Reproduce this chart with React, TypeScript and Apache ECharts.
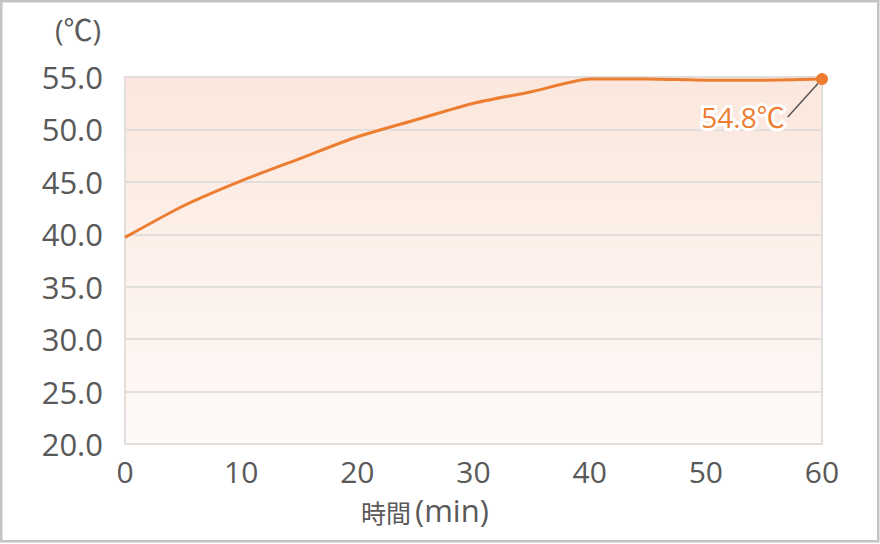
import React, { useEffect, useRef } from "react";
import * as echarts from "echarts";

const minutes = [0, 5, 10, 15, 20, 25, 30, 35, 40, 45, 50, 55, 60];
const temps = [39.7, 42.7, 45.1, 47.2, 49.3, 50.9, 52.5, 53.6, 54.8, 54.8, 54.7, 54.7, 54.8];
const xTicks = { min: 0, max: 60, interval: 10 };
const yTicks = { min: 20, max: 55, interval: 5 };
const endLabel = "54.8℃";
const xNameMain = "時間";
const xNameUnit = "(min)";
const yName = "(℃)";

const FONT = "'Open Sans', 'Noto Sans CJK JP', sans-serif";
const CJK = "'Noto Sans CJK JP', sans-serif";
const ORANGE = "#ed7d31";
const GREY = "#595959";

export default function App() {
  const ref = useRef<HTMLDivElement>(null);
  useEffect(() => {
    if (!ref.current) return;
    const chart = echarts.init(ref.current, undefined, { renderer: "svg" });
    const data = minutes.map((m, i) => {
      const item: any = { value: [m, temps[i]] };
      if (i === minutes.length - 1) {
        item.symbol = "circle";
        item.symbolSize = 12;
        item.label = {
          show: true,
          formatter: endLabel,
          color: ORANGE,
          fontSize: 28,
          fontFamily: FONT,
          textBorderColor: "#fff",
          textBorderWidth: 6,
        };
        item.labelLine = { show: true, lineStyle: { color: "#555", width: 1.5 } };
      }
      return item;
    });
    chart.setOption({
      animation: false,
      backgroundColor: "#fff",
      textStyle: { fontFamily: FONT },
      grid: {
        left: 125,
        right: 58,
        top: 77,
        bottom: 100,
        show: true,
        borderColor: "#e2dedc",
        borderWidth: 2,
        backgroundColor: new echarts.graphic.LinearGradient(0, 0, 0, 1, [
          { offset: 0, color: "#fbe7dd" },
          { offset: 1, color: "#fefaf8" },
        ]),
      },
      xAxis: {
        type: "value",
        min: xTicks.min,
        max: xTicks.max,
        interval: xTicks.interval,
        axisLine: { show: false },
        axisTick: { show: false },
        splitLine: { show: false },
        axisLabel: { color: GREY, fontSize: 30, fontFamily: FONT, margin: 12 },
      },
      yAxis: {
        type: "value",
        min: yTicks.min,
        max: yTicks.max,
        interval: yTicks.interval,
        axisLine: { show: false },
        axisTick: { show: false },
        splitLine: { show: true, lineStyle: { color: "#e2dedc", width: 2 } },
        axisLabel: {
          color: GREY,
          fontSize: 31,
          fontFamily: FONT,
          margin: 22,
          formatter: (v: number) => v.toFixed(1),
        },
      },
      graphic: [
        {
          type: "rect",
          silent: true,
          z: 100,
          shape: { x: 1.25, y: 1.25, width: 877, height: 540 },
          style: { fill: "none", stroke: "#c4c4c4", lineWidth: 2.5 },
        },
        {
          type: "text",
          left: 361,
          top: 494,
          style: {
            text: "{a|" + xNameMain + "}{b|" + xNameUnit + "}",
            fill: GREY,
            rich: {
              a: { fontSize: 25, fontFamily: CJK, fill: GREY, color: GREY, verticalAlign: "bottom" },
              b: {
                fontSize: 31,
                fontFamily: FONT,
                fill: GREY,
                color: GREY,
                verticalAlign: "bottom",
                padding: [0, 0, 0, 4],
              },
            },
          },
        },
        {
          type: "text",
          right: 779,
          top: 15,
          style: { text: yName, fill: GREY, fontSize: 29, fontFamily: FONT },
        },
      ],
      series: [
        {
          type: "line",
          data,
          smooth: 0.2,
          showSymbol: true,
          symbol: "none",
          lineStyle: { color: ORANGE, width: 3 },
          itemStyle: { color: ORANGE },
          labelLayout: { x: 743, y: 117, align: "center", verticalAlign: "middle" },
        },
      ],
    });
    return () => chart.dispose();
  }, []);
  return (
    <div style={{ position: "absolute", left: 0, top: 0 }}>
      <div ref={ref} style={{ width: 880, height: 544 }} />
    </div>
  );
}
